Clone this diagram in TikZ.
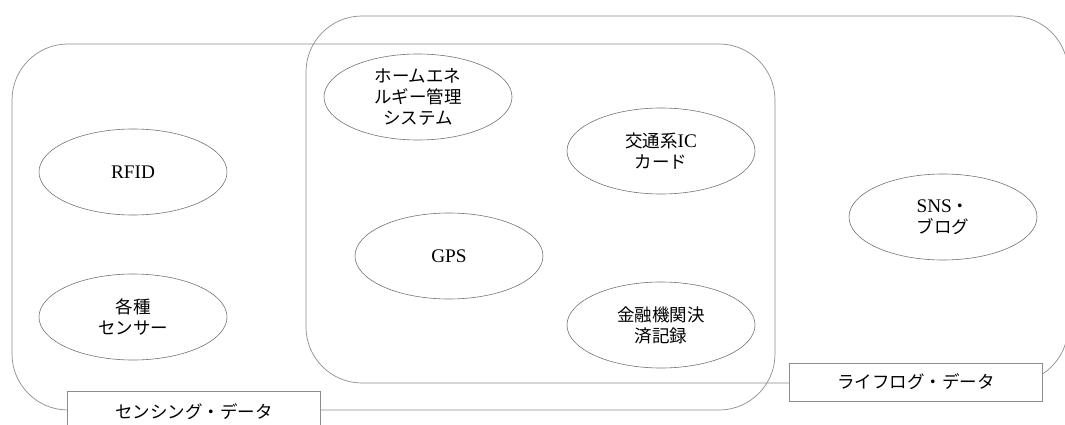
\documentclass[tikz,border=0pt]{standalone}
\usepackage{fontspec}
\setmainfont{Liberation Serif}[Scale=1.1]
\newfontfamily\jp{Noto Sans CJK JP}
\usetikzlibrary{shapes.geometric}
\tikzset{
  grp/.style={draw=black!45, line width=0.7pt, rounded corners=56pt, inner sep=0pt},
  item/.style={ellipse, draw=black!55, line width=0.6pt, minimum width=188pt, minimum height=86pt,
    align=center, font=\fontsize{17.5}{21}\selectfont, inner sep=0pt},
  lbl/.style={draw=black!45, fill=white, line width=0.7pt, minimum width=253pt, inner sep=0pt,
    font=\fontsize{17.5}{20}\selectfont}
}
\begin{document}
\begin{tikzpicture}[x=1pt,y=-1pt]
\useasboundingbox (0,0) rectangle (1065,425);
% group boxes
\node[grp, minimum width=763pt, minimum height=366pt] (sens) at (393.5,227) {};
\node[grp, minimum width=762pt, minimum height=367pt] (life) at (687,199.5) {};
% items
\node[item] (rfid) at (133,172) {RFID};
\node[item] (sensor) at (133,317) {{\jp 各種}\\{\jp センサー}};
\node[item] (home) at (418,97) {{\jp ホームエネ}\\{\jp ルギー管理}\\{\jp システム}};
\node[item] (ic) at (661,151) {{\jp 交通系}IC\\{\jp カード}};
\node[item] (gps) at (449,256) {GPS};
\node[item] (bank) at (661,325) {{\jp 金融機関決}\\{\jp 済記録}};
\node[item] (sns) at (943,217) {SNS{\jp ・}\\{\jp ブログ}};
% labels
\node[lbl, minimum height=42pt] (lsens) at (194,412) {\jp センシング・データ};
\node[lbl, minimum height=38pt] (llife) at (916,382) {\jp ライフログ・データ};
\end{tikzpicture}
\end{document}
